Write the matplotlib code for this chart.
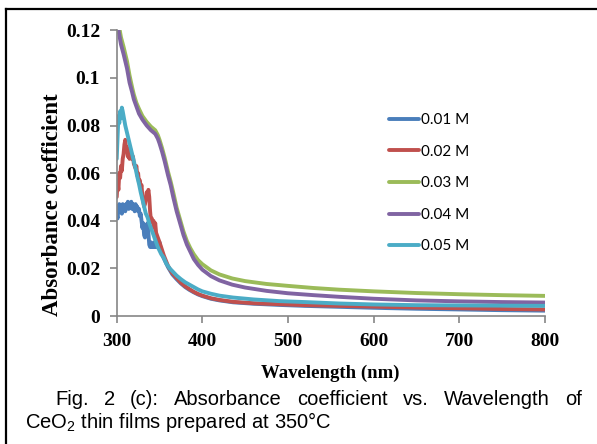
import matplotlib
matplotlib.use("Agg")
import matplotlib.pyplot as plt
from matplotlib.lines import Line2D

# ---------------- data ----------------
wl_001 = [300, 301, 302, 303, 304, 305, 306, 307, 308, 309, 310, 311, 312, 313, 314, 315,
          316, 317, 318, 319, 320, 321, 322, 323, 324, 325, 326, 327, 328, 329, 330, 331,
          332, 333, 334, 335, 336, 337, 338, 339, 340, 341, 342, 343, 344, 345, 346, 347,
          348, 349, 350, 352, 354, 356, 360, 365, 370, 375, 380, 385, 390, 395, 400, 410,
          420, 436, 460, 490, 520, 560, 600, 650, 700, 750, 800]
ab_001 = [0.043, 0.041, 0.045, 0.047, 0.044, 0.046, 0.043, 0.047, 0.045, 0.046, 0.044, 0.047,
          0.046, 0.048, 0.045, 0.047, 0.046, 0.048, 0.045, 0.047, 0.046, 0.044, 0.047, 0.045,
          0.046, 0.044, 0.045, 0.042, 0.043, 0.040, 0.037, 0.039, 0.034, 0.033, 0.036, 0.038,
          0.039, 0.035, 0.030, 0.029, 0.031, 0.029, 0.030, 0.029, 0.031, 0.029, 0.030, 0.029,
          0.031, 0.030, 0.031, 0.027, 0.025, 0.0235, 0.0205, 0.0175, 0.0155, 0.0137, 0.0122,
          0.011, 0.010, 0.0091, 0.0084, 0.0073, 0.0066, 0.0058, 0.0052, 0.0047, 0.0043,
          0.0039, 0.0035, 0.0031, 0.0028, 0.0025, 0.0023]

wl_002 = [300, 301, 302, 303, 304, 305, 306, 307, 308, 309, 310, 311, 312, 313, 314, 315,
          316, 317, 318, 319, 320, 322, 323, 324, 325, 326, 327, 328, 329, 330, 331, 332,
          333, 334, 335, 336, 337, 338, 339, 340, 341, 342, 343, 344, 345, 346, 348, 350,
          355, 360, 365, 370, 375, 380, 385, 390, 395, 400, 410, 420, 436, 460, 490, 520,
          560, 600, 650, 700, 750, 800]
ab_002 = [0.050, 0.056, 0.053, 0.060, 0.058, 0.063, 0.061, 0.066, 0.068, 0.072, 0.074, 0.070,
          0.071, 0.067, 0.069, 0.066, 0.070, 0.068, 0.066, 0.067, 0.064, 0.062, 0.063, 0.059,
          0.060, 0.056, 0.057, 0.054, 0.055, 0.050, 0.048, 0.046, 0.047, 0.049, 0.052, 0.051,
          0.053, 0.050, 0.044, 0.040, 0.041, 0.039, 0.040, 0.037, 0.039, 0.035, 0.033, 0.031,
          0.0255, 0.021, 0.018, 0.016, 0.014, 0.0125, 0.0113, 0.0102, 0.0093, 0.0086, 0.0075,
          0.0068, 0.0060, 0.0054, 0.0050, 0.0046, 0.0043, 0.0040, 0.0036, 0.0033, 0.0030,
          0.0028]

wl_smooth = [300, 302, 305, 308, 310, 312, 315, 318, 320, 323, 326, 330, 335, 340, 345, 348,
             350, 353, 356, 358, 360, 363, 366, 370, 374, 378, 382, 386, 390, 395, 400, 410,
             420, 435, 450, 475, 500, 530, 560, 600, 650, 700, 750, 800]
ab_003 = [0.128, 0.123, 0.117, 0.113, 0.110, 0.107, 0.101, 0.096, 0.093, 0.0895, 0.087,
          0.084, 0.0815, 0.0795, 0.078, 0.076, 0.074, 0.0705, 0.0665, 0.0635, 0.0605, 0.0565,
          0.052, 0.0455, 0.0405, 0.0355, 0.0315, 0.0285, 0.026, 0.0235, 0.0218, 0.0192,
          0.0175, 0.0158, 0.0147, 0.0135, 0.0127, 0.0118, 0.0111, 0.0104, 0.0097, 0.0092,
          0.0088, 0.0085]
ab_004 = [0.126, 0.120, 0.114, 0.110, 0.107, 0.104, 0.098, 0.094, 0.091, 0.088, 0.085,
          0.0825, 0.080, 0.078, 0.0765, 0.0745, 0.0725, 0.069, 0.065, 0.062, 0.059, 0.055,
          0.050, 0.044, 0.039, 0.034, 0.030, 0.027, 0.024, 0.0215, 0.0195, 0.0168, 0.015,
          0.0132, 0.0120, 0.0106, 0.0096, 0.0088, 0.0081, 0.0073, 0.0066, 0.0062, 0.0059,
          0.0057]

wl_005 = [300, 301, 302, 303, 304, 305, 306, 307, 308, 309, 310, 312, 314, 316, 318, 320,
          322, 324, 326, 328, 330, 332, 334, 336, 338, 340, 342, 344, 346, 348, 350, 352,
          355, 358, 362, 366, 370, 375, 380, 385, 390, 395, 400, 410, 420, 436, 460, 490,
          520, 560, 600, 650, 700, 750, 800]
ab_005 = [0.066, 0.075, 0.084, 0.081, 0.086, 0.083, 0.0875, 0.086, 0.084, 0.082, 0.080,
          0.077, 0.074, 0.071, 0.068, 0.065, 0.062, 0.0585, 0.0555, 0.052, 0.049, 0.046,
          0.043, 0.0415, 0.039, 0.037, 0.035, 0.033, 0.031, 0.029, 0.0275, 0.026, 0.0245,
          0.022, 0.020, 0.0185, 0.0170, 0.0155, 0.0142, 0.0132, 0.0122, 0.0112, 0.0104,
          0.0094, 0.0086, 0.0078, 0.0070, 0.0063, 0.0059, 0.0053, 0.0049, 0.0046, 0.0045,
          0.0044, 0.0043]

labels = ["0.01 M", "0.02 M", "0.03 M", "0.04 M", "0.05 M"]
colors = ["#4A7EBB", "#C0504D", "#9BBB59", "#8064A2", "#4BACC6"]

y_ticks = [0, 0.02, 0.04, 0.06, 0.08, 0.1, 0.12]
y_ticklabels = ["0", "0.02", "0.04", "0.06", "0.08", "0.1", "0.12"]
x_ticks = [300, 400, 500, 600, 700, 800]

caption_line1 = ["Fig.", "2", "(c):", "Absorbance", "coefficient", "vs.", "Wavelength", "of"]
caption_line2 = "CeO$_2$ thin films prepared at 350°C"

# ---------------- plot ----------------
plt.rcParams["mathtext.fontset"] = "custom"
plt.rcParams["mathtext.rm"] = "Liberation Sans"

W, H = 597, 444
fig = plt.figure(figsize=(W / 100, H / 100), dpi=100)
ax = fig.add_axes([0.1955, 0.288, 0.717, 0.644])

series = [(wl_001, ab_001), (wl_002, ab_002), (wl_smooth, ab_003),
          (wl_smooth, ab_004), (wl_005, ab_005)]
for (x, y), lab, c in zip(series, labels, colors):
    ax.plot(x, y, color=c, lw=2.8, label=lab, solid_capstyle="round",
            solid_joinstyle="round")

ax.set_xlim(300, 800)
ax.set_ylim(0, 0.12)
ax.set_xticks(x_ticks)
ax.set_yticks(y_ticks)
ax.set_yticklabels(y_ticklabels)

for s in ["top", "right"]:
    ax.spines[s].set_visible(False)
for s in ["left", "bottom"]:
    ax.spines[s].set_color("#868686")
    ax.spines[s].set_linewidth(1.2)

ax.tick_params(colors="#868686", length=5, width=1.2, direction="out")
ax.tick_params(axis="y", pad=7)
ax.tick_params(axis="x", pad=7)
for t in ax.get_xticklabels() + ax.get_yticklabels():
    t.set_fontfamily("Liberation Serif")
    t.set_fontweight("bold")
    t.set_fontsize(14)
    t.set_color("black")

ax.set_xlabel("Wavelength (nm)", family="Liberation Serif", weight="bold", fontsize=13.5)
ax.set_ylabel("Absorbance coefficient", family="Liberation Serif", weight="bold",
              fontsize=16.5)
ax.xaxis.set_label_coords(0.5, -0.17)
ax.yaxis.set_label_coords(-0.126, 0.39)

ax.legend(loc="upper left", bbox_to_anchor=(0.652, 0.745), bbox_transform=fig.transFigure,
          frameon=False, prop={"family": "Lato", "size": 11}, handlelength=1.95,
          handletextpad=0.15, labelspacing=1.15, borderpad=0, borderaxespad=0)

# caption: first line justified between x=55 and x=582 px
renderer = fig.canvas.get_renderer()
words = [fig.text(0, 1 - 404.5 / H, w, family="Liberation Sans", fontsize=14.5,
                  va="baseline") for w in caption_line1]
widths = [t.get_window_extent(renderer).width for t in words]
gap = (582 - 55 - sum(widths)) / (len(words) - 1)
xpos = 55
for t, w in zip(words, widths):
    t.set_x(xpos / W)
    xpos += w + gap
fig.text(25 / W, 1 - 427.5 / H, caption_line2, family="Liberation Sans", fontsize=14.5,
         va="baseline")

# frame around the figure
fig.add_artist(Line2D([6 / W, 6 / W], [0, 1 - 9 / H], color="black", lw=1.6,
                      transform=fig.transFigure))
fig.add_artist(Line2D([6 / W, 1], [1 - 9 / H, 1 - 9 / H], color="black", lw=1.6,
                      transform=fig.transFigure))

fig.savefig("out.png", dpi=100)
